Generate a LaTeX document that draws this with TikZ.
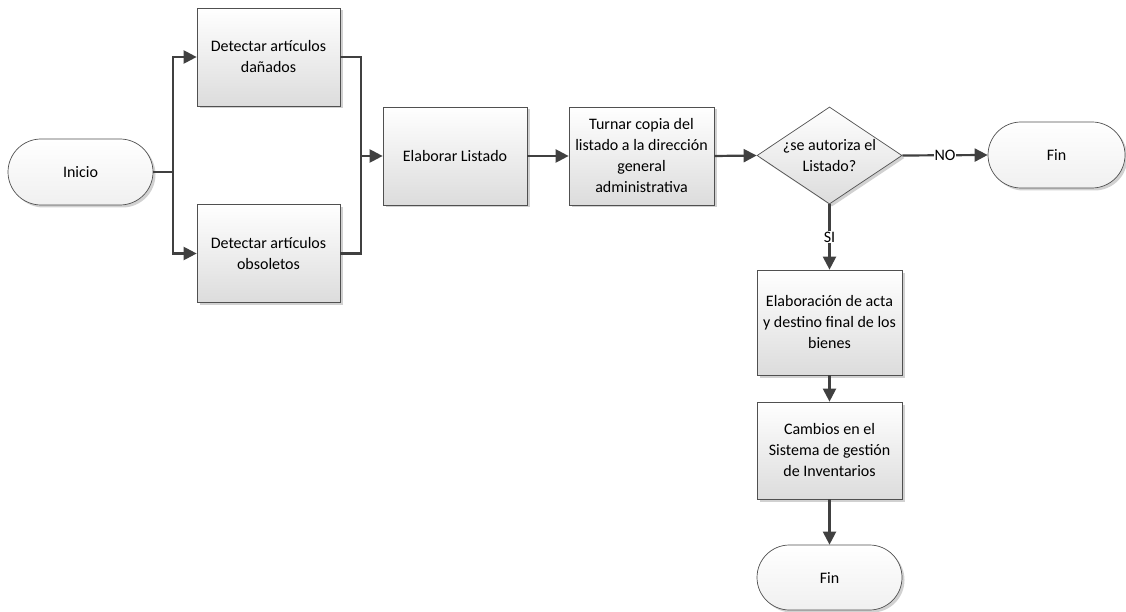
\documentclass[tikz,border=0pt]{standalone}
\usepackage{fontspec}
\setmainfont{Carlito}
\usetikzlibrary{shapes.geometric,shapes.misc,shadows,arrows.meta}

\definecolor{linegray}{HTML}{404040}
\definecolor{edgegray}{HTML}{505050}
\definecolor{boxbottom}{HTML}{DCDCDC}
\definecolor{termbottom}{HTML}{F0F0F0}

\tikzset{
  base/.style={draw=edgegray, line width=0.7pt, align=center,
    font=\fontsize{16}{21}\selectfont, inner sep=0pt,
    drop shadow={shadow xshift=2.5pt, shadow yshift=-2.5pt, fill=black, opacity=0.18}},
  process/.style={base, rectangle, top color=white, bottom color=boxbottom},
  terminal/.style={base, rounded rectangle, top color=white, bottom color=termbottom,
    minimum width=145pt, minimum height=66pt},
  decision/.style={base, diamond, top color=white, bottom color=boxbottom,
    minimum width=145pt, minimum height=97pt},
  label/.style={align=center, font=\fontsize{16}{21}\selectfont, inner sep=0pt},
  link/.style={draw=linegray, line width=2.2pt},
  flow/.style={link, -{Triangle[length=13pt,width=13pt]}},
  tag/.style={fill=white, inner sep=1pt, font=\fontsize{16}{21}\selectfont}
}

\begin{document}
\begin{tikzpicture}[x=1pt, y=1pt]
\useasboundingbox (0,0) rectangle (1126,-612);

% shapes
\node[terminal] (inicio) at (80.5,-172) {Inicio};
\node[process, minimum width=143pt, minimum height=98pt] (danados) at (268.5,-57)
  {Detectar artículos\\dañados};
\node[process, minimum width=143pt, minimum height=98pt] (obsoletos) at (268.5,-253.5)
  {Detectar artículos\\obsoletos};
\node[process, minimum width=144pt, minimum height=98pt] (listado) at (455,-156)
  {Elaborar Listado};
\node[process, minimum width=145pt, minimum height=98pt] (turnar) at (641.5,-156)
  {Turnar copia del\\listado a la dirección\\general\\administrativa};
\node[decision] (autoriza) at (829.5,-155.5) {};
\node[label] (autorizatxt) at (829.5,-155.5) {¿se autoriza el\\Listado?};
\node[terminal, minimum width=137pt] (fin1) at (1056.5,-155) {Fin};
\node[process, minimum width=145pt, minimum height=105pt] (acta) at (829.5,-322.5)
  {Elaboración de acta\\y destino final de los\\bienes};
\node[process, minimum width=145pt, minimum height=97pt] (cambios) at (829.5,-450.5)
  {Cambios en el\\Sistema de gestión\\de Inventarios};
\node[terminal, minimum height=65pt] (fin2) at (829.5,-577.5) {Fin};

% branch and merge points
\coordinate (split) at (173,-172);
\coordinate (merge) at (361,-156);

% connectors
\draw[link] (inicio.east) -- (split);
\draw[flow] (split) |- (danados.west);
\draw[flow] (split) |- (obsoletos.west);
\draw[link] (danados.east) -| (merge);
\draw[link] (obsoletos.east) -| (merge);
\draw[flow] (merge) -- (listado.west);
\draw[flow] (listado.east) -- (turnar.west);
\draw[flow] (turnar.east) -- (autoriza.west);
\draw[flow] (autoriza.east) -- node[tag] (no) {NO} (fin1.west);
\draw[flow] (autoriza.south) -- node[tag] (si) {SI} (acta.north);
\draw[flow] (acta.south) -- (cambios.north);
\draw[flow] (cambios.south) -- (fin2.north);
\end{tikzpicture}
\end{document}
